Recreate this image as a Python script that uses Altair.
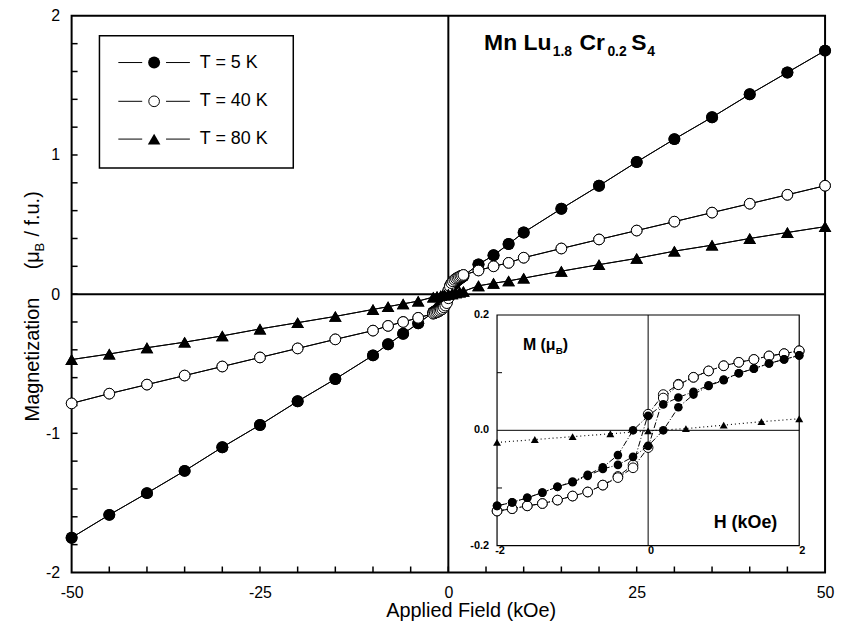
import altair as alt
import pandas as pd

FONT = "Liberation Sans"

# ---------------- main panel data (H in kOe, M in mu_B / f.u.) ----------------
hf_pos = [4, 6, 8, 10, 15, 20, 25, 30, 35, 40, 45, 50]
m5_pos = [0.214, 0.279, 0.36, 0.443, 0.614, 0.779, 0.95, 1.114, 1.271, 1.436, 1.593, 1.75]
m40_pos = [0.17, 0.20, 0.225, 0.262, 0.328, 0.393, 0.457, 0.521, 0.586, 0.65, 0.714, 0.779]
m80_pos = [0.06, 0.078, 0.095, 0.115, 0.165, 0.212, 0.257, 0.309, 0.352, 0.40, 0.443, 0.485]

hf_neg = [-4, -6, -8, -10, -15, -20, -25, -30, -35, -40, -45, -50]
m5_neg = [-0.21, -0.285, -0.36, -0.44, -0.61, -0.77, -0.94, -1.10, -1.27, -1.43, -1.586, -1.75]
m40_neg = [-0.17, -0.20, -0.228, -0.262, -0.325, -0.39, -0.455, -0.52, -0.585, -0.65, -0.715, -0.785]
m80_neg = [-0.05, -0.07, -0.09, -0.11, -0.16, -0.205, -0.25, -0.30, -0.345, -0.385, -0.43, -0.47]

# ---------------- low-field loops (inset) ----------------
loop_h = [-2.0, -1.8, -1.6, -1.4, -1.2, -1.0, -0.8, -0.6, -0.4, -0.2, 0.0,
          0.2, 0.4, 0.6, 0.8, 1.0, 1.2, 1.4, 1.6, 1.8, 2.0]
m5_up = [-0.131, -0.125, -0.117, -0.108, -0.098, -0.090, -0.079, -0.067, -0.060, -0.046, -0.027,
         0.000, 0.040, 0.062, 0.077, 0.087, 0.099, 0.107, 0.116, 0.123, 0.130]
m5_down = [-0.131, -0.125, -0.117, -0.108, -0.098, -0.089, -0.077, -0.064, -0.043, 0.000, 0.025,
           0.045, 0.057, 0.067, 0.078, 0.088, 0.099, 0.107, 0.116, 0.123, 0.130]
m40_up = [-0.140, -0.136, -0.131, -0.127, -0.121, -0.114, -0.107, -0.095, -0.082, -0.065, -0.030,
          0.056, 0.079, 0.092, 0.103, 0.112, 0.118, 0.123, 0.129, 0.133, 0.138]
m40_down = [-0.140, -0.136, -0.131, -0.127, -0.121, -0.114, -0.107, -0.095, -0.080, -0.060, 0.028,
            0.062, 0.080, 0.092, 0.103, 0.112, 0.118, 0.123, 0.129, 0.133, 0.138]
loop80_h = [-2.0, -1.5, -1.0, -0.5, 0.0, 0.5, 1.0, 1.5, 2.0]
m80_loop = [-0.021, -0.016, -0.011, -0.006, -0.001, 0.003, 0.009, 0.015, 0.020]

# axes / ticks
main_x_labels = [-50, -25, 0, 25, 50]
main_y_labels = [-2, -1, 0, 1, 2]
main_x_ticks = [-45, -40, -35, -30, -25, -20, -15, -10, -5, 0, 5, 10, 15, 20, 25, 30, 35, 40, 45]
main_y_ticks = [-1.8, -1.6, -1.4, -1.2, -1.0, -0.8, -0.6, -0.4, -0.2, 0.0,
                0.2, 0.4, 0.6, 0.8, 1.0, 1.2, 1.4, 1.6, 1.8]
inset_x_labels = ["-2", "0", "2"]
inset_x_vals = [-2, 0, 2]
inset_y_labels = ["0.2", "0.0", "-0.2"]
inset_y_vals = [0.2, 0.0, -0.2]
inset_y_ticks = [-0.1, 0.1]
legend_labels = ["T = 5 K", "T = 40 K", "T = 80 K"]

W, H = 758, 560


def sweep(neg_h, neg_m, lh, up, down, pos_h, pos_m):
    h = pos_h[::-1] + lh[::-1] + neg_h + neg_h[::-1] + lh + pos_h
    m = pos_m[::-1] + down[::-1] + neg_m + neg_m[::-1] + up + pos_m
    return pd.DataFrame({"h": h, "m": m, "seq": list(range(len(h)))})


def loop(lh, up, down):
    h = lh[::-1] + lh
    m = down[::-1] + up
    return pd.DataFrame({"h": h, "m": m, "seq": list(range(len(h)))})


main5 = sweep(hf_neg, m5_neg, loop_h, m5_up, m5_down, hf_pos, m5_pos)
main40 = sweep(hf_neg, m40_neg, loop_h, m40_up, m40_down, hf_pos, m40_pos)
main80 = sweep(hf_neg, m80_neg, loop80_h, m80_loop, m80_loop, hf_pos, m80_pos)
in5 = loop(loop_h, m5_up, m5_down)
in40 = loop(loop_h, m40_up, m40_down)
in80 = pd.DataFrame({"h": loop80_h, "m": m80_loop, "seq": list(range(len(loop80_h)))})

xs_main = alt.Scale(domain=[-50, 50], nice=False, zero=False)
ys_main = alt.Scale(domain=[-2, 2], nice=False, zero=False)
x_axis = alt.Axis(values=main_x_labels, labelExpr="'' + datum.value", labelFont=FONT,
                  labelFontSize=16, labelColor="black", ticks=False, tickSize=0, domain=False,
                  grid=False, labelPadding=12, title=None, labelFlush=False)
y_axis = alt.Axis(values=main_y_labels, labelExpr="'' + datum.value", labelFont=FONT,
                  labelFontSize=16, labelColor="black", ticks=False, tickSize=0, domain=False,
                  grid=False, labelPadding=12, title=None, labelFlush=False)


def MX(f):
    return alt.X(f, type="quantitative", scale=xs_main, axis=x_axis)


def MY(f):
    return alt.Y(f, type="quantitative", scale=ys_main, axis=y_axis)


ONE = pd.DataFrame({"k": [0]})


def ptext(txt, x, y, size, bold=False, align="left", baseline="alphabetic", angle=0):
    kw = dict(text=txt, font=FONT, fontSize=size, align=align, baseline=baseline, color="black")
    if bold:
        kw["fontWeight"] = "bold"
    if angle:
        kw["angle"] = angle
    return alt.Chart(ONE).mark_text(**kw).encode(x=alt.value(x), y=alt.value(y))


main_layers = []
# zero lines
main_layers.append(alt.Chart(pd.DataFrame({"x": [0], "y": [-2], "y2": [2]})).mark_rule(
    color="black", strokeWidth=2).encode(x=MX("x"), y=MY("y"), y2="y2"))
main_layers.append(alt.Chart(pd.DataFrame({"y": [0], "x": [-50], "x2": [50]})).mark_rule(
    color="black", strokeWidth=2).encode(y=MY("y"), x=MX("x"), x2="x2"))
# inward ticks
main_layers.append(alt.Chart(pd.DataFrame({"t": main_x_ticks})).mark_rule(
    color="black", strokeWidth=1.5).encode(x=MX("t"), y=alt.value(H), y2=alt.value(H - 6)))
main_layers.append(alt.Chart(pd.DataFrame({"t": main_y_ticks})).mark_rule(
    color="black", strokeWidth=1.5).encode(y=MY("t"), x=alt.value(0), x2=alt.value(6)))

# curves
for df in (main5, main40, main80):
    main_layers.append(alt.Chart(df).mark_line(color="black", strokeWidth=1).encode(
        x=MX("h"), y=MY("m"), order="seq:Q"))
main_layers.append(alt.Chart(main5).mark_point(shape="circle", filled=True, fill="black",
                                                size=144, opacity=1, strokeWidth=0).encode(
    x=MX("h"), y=MY("m")))
main_layers.append(alt.Chart(main40).mark_point(shape="circle", filled=True, fill="white",
                                                 stroke="black", strokeWidth=1, size=115,
                                                 opacity=1).encode(x=MX("h"), y=MY("m")))
main_layers.append(alt.Chart(main80).mark_point(shape="triangle-up", filled=True, fill="black",
                                                 size=160, opacity=1, strokeWidth=0).encode(
    x=MX("h"), y=MY("m")))

# legend box
main_layers.append(alt.Chart(ONE).mark_rect(fill="white", stroke="black", strokeWidth=1.5).encode(
    x=alt.value(28), x2=alt.value(223), y=alt.value(20), y2=alt.value(153)))
rows_y = [47, 86, 124]
shapes = [("circle", "black", 144), ("circle", "white", 115), ("triangle-up", "black", 160)]
for lbl, ry, (shp, fc, sz) in zip(legend_labels, rows_y, shapes):
    for xa, xb in ((47, 71), (95, 119)):
        main_layers.append(alt.Chart(ONE).mark_rule(color="black", strokeWidth=1).encode(
            x=alt.value(xa), x2=alt.value(xb), y=alt.value(ry)))
    main_layers.append(alt.Chart(ONE).mark_point(shape=shp, filled=True, fill=fc, stroke="black",
                                                  strokeWidth=1 if fc == "white" else 0,
                                                  size=sz, opacity=1).encode(
        x=alt.value(83), y=alt.value(ry)))
    main_layers.append(ptext(lbl, 129, ry, 18, baseline="middle"))

# title with subscripts
main_layers += [
    ptext("Mn Lu", 415, 34, 23, bold=True),
    ptext("1.8", 484, 40, 14, bold=True),
    ptext("Cr", 511, 34, 23, bold=True),
    ptext("0.2", 539, 40, 14, bold=True),
    ptext("S", 563, 34, 23, bold=True),
    ptext("4", 579, 40, 14, bold=True),
]
# axis titles
main_layers.append(ptext("Applied Field (kOe)", 402, 605, 20, align="center"))
main_layers += [
    ptext("Magnetization", -33, 408, 20, angle=270),
    ptext("(\u03bc", -33, 255, 20, angle=270),
    ptext("B", -28, 237, 13, angle=270),
    ptext("/ f.u.)", -33, 222, 20, angle=270),
]

main = alt.layer(*main_layers)

# ---------------- inset ----------------
xs_in = alt.Scale(domain=[-2, 2], range=[428, 732], nice=False, zero=False)
ys_in = alt.Scale(domain=[-0.2, 0.2], range=[533, 301], nice=False, zero=False)


def IX(f):
    return alt.X(f, type="quantitative", scale=xs_in, axis=None)


def IY(f):
    return alt.Y(f, type="quantitative", scale=ys_in, axis=None)


inset_layers = []
inset_layers.append(alt.Chart(pd.DataFrame({"x": [-2], "x2": [2], "y": [-0.2], "y2": [0.2]})).mark_rect(
    fill="white", stroke="black", strokeWidth=1.2).encode(x=IX("x"), x2="x2", y=IY("y"), y2="y2"))
inset_layers.append(alt.Chart(pd.DataFrame({"x": [0], "y": [-0.2], "y2": [0.2]})).mark_rule(
    color="black", strokeWidth=1).encode(x=IX("x"), y=IY("y"), y2="y2"))
inset_layers.append(alt.Chart(pd.DataFrame({"y": [0], "x": [-2], "x2": [2]})).mark_rule(
    color="black", strokeWidth=1).encode(y=IY("y"), x=IX("x"), x2="x2"))
inset_layers.append(alt.Chart(pd.DataFrame({"t": inset_y_ticks})).mark_rule(
    color="black", strokeWidth=1).encode(y=IY("t"), x=alt.value(428), x2=alt.value(433)))
inset_layers.append(alt.Chart(pd.DataFrame({"v": inset_x_vals, "s": inset_x_labels})).mark_text(
    font=FONT, fontSize=11, fontWeight="bold", dx=3, baseline="middle", color="black").encode(
    x=IX("v"), y=alt.value(538), text="s:N"))
inset_layers.append(alt.Chart(pd.DataFrame({"v": inset_y_vals, "s": inset_y_labels})).mark_text(
    font=FONT, fontSize=11, fontWeight="bold", align="right", baseline="middle", color="black").encode(
    x=alt.value(420), y=IY("v"), text="s:N"))

inset_layers.append(alt.Chart(in40).mark_line(color="black", strokeWidth=1, strokeDash=[6, 2, 1, 2]).encode(
    x=IX("h"), y=IY("m"), order="seq:Q"))
inset_layers.append(alt.Chart(in40).mark_point(shape="circle", filled=True, fill="white", stroke="black",
                                               strokeWidth=1, size=95, opacity=1).encode(
    x=IX("h"), y=IY("m")))
inset_layers.append(alt.Chart(in5).mark_line(color="black", strokeWidth=1, strokeDash=[6, 2, 1, 2]).encode(
    x=IX("h"), y=IY("m"), order="seq:Q"))
inset_layers.append(alt.Chart(in5).mark_point(shape="circle", filled=True, fill="black",
                                              size=75, opacity=1, strokeWidth=0).encode(
    x=IX("h"), y=IY("m")))
inset_layers.append(alt.Chart(in80).mark_line(color="black", strokeWidth=1.2, strokeDash=[1, 3]).encode(
    x=IX("h"), y=IY("m"), order="seq:Q"))
inset_layers.append(alt.Chart(in80).mark_point(shape="triangle-up", filled=True, fill="black",
                                               size=64, opacity=1, strokeWidth=0).encode(
    x=IX("h"), y=IY("m")))

inset_layers += [
    ptext("M (\u03bc", 454, 336, 16, bold=True),
    ptext("B", 487, 340, 10, bold=True),
    ptext(")", 494, 336, 16, bold=True),
    ptext("H (kOe)", 646, 515, 18, bold=True),
]

inset = alt.layer(*inset_layers)

chart = alt.layer(main, inset).resolve_scale(x="independent", y="independent").properties(
    width=W, height=H,
    padding={"left": 64, "top": 6, "right": 11, "bottom": 55},
    autosize=alt.AutoSizeParams(type="none"),
).configure_view(stroke="black", strokeWidth=2)

chart.save("out.html", embed_options={"renderer": "svg", "actions": False})
